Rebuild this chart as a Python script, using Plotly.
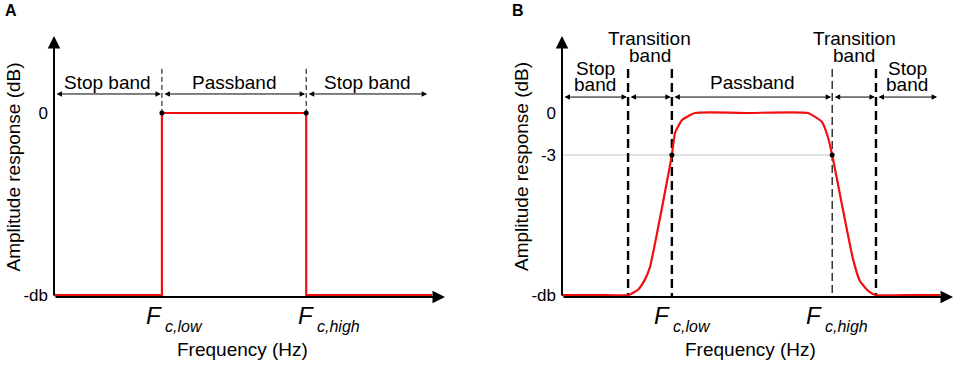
import plotly.graph_objects as go

W, H = 957, 365
FONT = "Liberation Sans, Arial, sans-serif"

# ---------------- data ----------------
# Panel A: ideal band-pass filter (normalised frequency, dB)
freq_a = [0.0, 0.276, 0.276, 0.645, 0.645, 0.967]
resp_a = [-13.0, -13.0, 0.0, 0.0, -13.0, -13.0]
fc_a = [0.276, 0.645]
edges_a = [0.0, 0.276, 0.645, 0.957]
bands_a = ["Stop band", "Passband", "Stop band"]

# Panel B: real band-pass filter
freq_b = [0.0, 0.100, 0.170, 0.195, 0.212, 0.225, 0.281, 0.289, 0.307, 0.340, 0.480,
          0.629, 0.665, 0.680, 0.691, 0.744, 0.762, 0.783, 0.803, 0.900, 0.967]
resp_b = [-13.0, -13.0, -13.0, -12.6, -11.9, -11.0, -3.0, -1.43, -0.5, 0.0, 0.0,
          0.0, -0.64, -1.71, -3.0, -10.4, -12.0, -12.7, -13.0, -13.0, -13.0]
fc_b = [0.281, 0.691]
trans_b = [0.169, 0.803]
edges_b = [0.0, 0.169, 0.281, 0.691, 0.803, 0.962]
bands_b = [["Stop", "band"], ["Transition", "band"], ["Passband"],
           ["Transition", "band"], ["Stop", "band"]]

tickvals_a = [0.0, -13.0]
ticktext_a = ["0", "-db"]
tickvals_b = [0.0, -3.0, -13.0]
ticktext_b = ["0", "-3", "-db"]
cutoff_db = -3.0
fc_names = ["low", "high"]

# ---------------- layout constants ----------------
Y0, Y1 = -13.14, 5.5
X0, X1 = 0.0, 1.0
GUIDE_TOP = 3.15
ARROW_Y_A = 1.36
ARROW_Y_B = 1.14
FC_LABEL_X = [0.280, 0.668]
RED = "#f01010"

fig = go.Figure()


def add_panel(xr, yr, freq, resp, fc, edges, label_lines, arrow_y, dashed, dots_y, gray):
    if gray:
        fig.add_trace(go.Scatter(x=[X0, fc[1]], y=[cutoff_db, cutoff_db], mode="lines",
                                 line=dict(color="#c4c4c4", width=1.2),
                                 xaxis=xr, yaxis=yr, hoverinfo="skip"))
    for xv, bottom, width, dash in dashed:
        fig.add_trace(go.Scatter(x=[xv, xv], y=[GUIDE_TOP, bottom], mode="lines",
                                 line=dict(color="black", width=width, dash=dash),
                                 xaxis=xr, yaxis=yr, hoverinfo="skip"))
    fig.add_trace(go.Scatter(x=freq, y=resp, mode="lines",
                             line=dict(color=RED, width=2.2,
                                       shape="spline" if gray else "linear",
                                       smoothing=0.45),
                             xaxis=xr, yaxis=yr, hoverinfo="skip"))
    fig.add_trace(go.Scatter(x=fc, y=[dots_y, dots_y], mode="markers",
                             marker=dict(color="black", size=5),
                             xaxis=xr, yaxis=yr, hoverinfo="skip"))
    # axis arrows
    fig.add_annotation(x=X0, y=Y1, ax=X0, ay=Y0, xref=xr, yref=yr, axref=xr, ayref=yr,
                       text="", showarrow=True, arrowhead=2, arrowsize=1.25,
                       arrowwidth=2, arrowcolor="black")
    fig.add_annotation(x=X1, y=Y0, ax=X0, ay=Y0, xref=xr, yref=yr, axref=xr, ayref=yr,
                       text="", showarrow=True, arrowhead=2, arrowsize=1.25,
                       arrowwidth=2, arrowcolor="black")
    for i in range(len(edges) - 1):
        a, b = edges[i], edges[i + 1]
        fig.add_annotation(x=b, y=arrow_y, ax=a, ay=arrow_y, xref=xr, yref=yr,
                           axref=xr, ayref=yr, text="", showarrow=True,
                           arrowhead=2, startarrowhead=2, arrowside="end+start",
                           arrowsize=1.1, startarrowsize=1.1, arrowwidth=1,
                           arrowcolor="black", standoff=1, startstandoff=1)
        lines, ys = label_lines[i]
        for t, yv in zip(lines, ys):
            fig.add_annotation(x=(a + b) / 2, y=yv, xref=xr, yref=yr, text=t,
                               showarrow=False, xanchor="center", yanchor="middle",
                               font=dict(family=FONT, size=19, color="black"))
    for xv, nm in zip(FC_LABEL_X, fc_names):
        fig.add_annotation(x=xv, y=Y0, xref=xr, yref=yr, text="<i>F</i>",
                           showarrow=False, xanchor="right", yanchor="middle",
                           yshift=-18, xshift=1,
                           font=dict(family=FONT, size=24, color="black"))
        fig.add_annotation(x=xv, y=Y0, xref=xr, yref=yr, text="<i>c," + nm + "</i>",
                           showarrow=False, xanchor="left", yanchor="middle",
                           yshift=-29, xshift=0,
                           font=dict(family=FONT, size=16, color="black"))
    fig.add_annotation(x=0.483, y=Y0, xref=xr, yref=yr, text="Frequency (Hz)",
                       showarrow=False, xanchor="center", yanchor="middle", yshift=-52,
                       font=dict(family=FONT, size=19, color="black"))


lab_a = [([t], [2.21]) for t in bands_a]
dashed_a = [(fc_a[0], 0.0, 1, "5px,3px"), (fc_a[1], 0.0, 1, "5px,3px")]
add_panel("x", "y", freq_a, resp_a, fc_a, edges_a, lab_a, ARROW_Y_A, dashed_a, 0.0, False)

ys_for = {"Stop": [3.18, 2.03], "Transition": [5.33, 4.14], "Passband": [2.21]}
lab_b = [(lines, ys_for[lines[0]]) for lines in bands_b]
dashed_b = [(trans_b[0], Y0, 2.4, "9px,5px"), (fc_b[0], Y0, 2.4, "9px,5px"),
            (fc_b[1], Y0, 1.2, "8px,4px"), (trans_b[1], Y0, 2.4, "9px,5px")]
add_panel("x2", "y2", freq_b, resp_b, fc_b, edges_b, lab_b, ARROW_Y_B, dashed_b, cutoff_db, True)

for xc, letter, lx in [(12.5, "A", 11), (521, "B", 518)]:
    fig.add_annotation(x=xc / W, y=(H - 167) / H, xref="paper", yref="paper",
                       text="Amplitude response (dB)", textangle=-90, showarrow=False,
                       xanchor="center", yanchor="middle",
                       font=dict(family=FONT, size=19, color="black"))
    fig.add_annotation(x=lx / W, y=(H - 11) / H, xref="paper", yref="paper",
                       text="<b>" + letter + "</b>", showarrow=False,
                       xanchor="center", yanchor="middle",
                       font=dict(family=FONT, size=16, color="black"))

ydom = [(H - 297) / H, (H - 36) / H]
common_x = dict(range=[X0, X1], showgrid=False, zeroline=False, showticklabels=False,
                showline=False, ticks="", fixedrange=True, automargin=False)
common_y = dict(range=[Y0, Y1], showgrid=False, zeroline=False, showline=False,
                ticks="", fixedrange=True, ticklabelstandoff=5, automargin=False,
                tickfont=dict(family=FONT, size=17, color="black"), domain=ydom)

fig.update_layout(
    width=W, height=H, margin=dict(l=0, r=0, t=0, b=0, pad=0, autoexpand=False),
    paper_bgcolor="white", plot_bgcolor="white", showlegend=False,
    xaxis=dict(domain=[54 / W, 445 / W], **common_x),
    xaxis2=dict(domain=[562 / W, 953 / W], **common_x),
    yaxis=dict(tickvals=tickvals_a, ticktext=ticktext_a, anchor="x", **common_y),
    yaxis2=dict(tickvals=tickvals_b, ticktext=ticktext_b, anchor="x2", **common_y),
)
fig.update_traces(cliponaxis=False)

fig.write_html("out.html", config={"displayModeBar": False},
               post_script="document.body.style.margin='0px';document.body.style.overflow='hidden';")
